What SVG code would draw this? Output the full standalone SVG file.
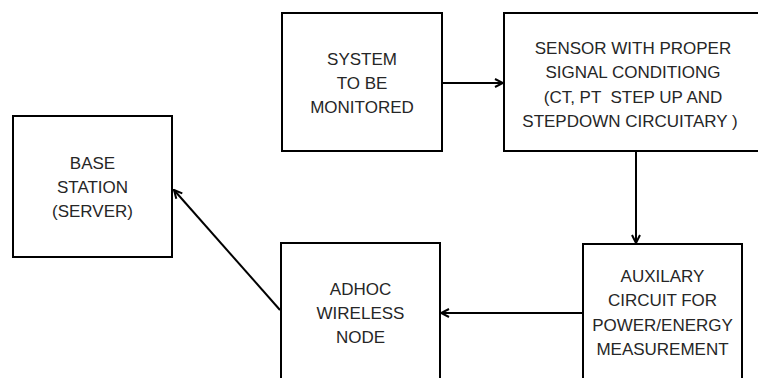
<svg xmlns="http://www.w3.org/2000/svg" width="758" height="378" viewBox="0 0 758 378">
  <style>
    .box { fill: #ffffff; stroke: #000000; stroke-width: 2; }
    .lbl { font-family: "Liberation Sans", Arial, sans-serif; font-size: 17px; fill: #262626; text-anchor: middle; white-space: pre; }
    .wire { fill: none; stroke: #000000; stroke-width: 2; marker-end: url(#arrow); }
  </style>
  <defs>
    <marker id="arrow" viewBox="0 0 10 10" refX="9" refY="5" markerWidth="5" markerHeight="5" markerUnits="strokeWidth" orient="auto">
      <path d="M1,1 L9,5 L1,9" fill="none" stroke="#000000" stroke-width="2"/>
    </marker>
  </defs>
  <rect width="758" height="378" fill="#ffffff"/>

  <g id="system">
    <rect class="box" x="282" y="13" width="160" height="138"/>
    <text class="lbl" x="362" y="65">SYSTEM</text>
    <text class="lbl" x="362" y="89">TO BE</text>
    <text class="lbl" x="362" y="113">MONITORED</text>
  </g>

  <g id="sensor">
    <rect class="box" x="504" y="13" width="270" height="138"/>
    <text class="lbl" x="633" y="54">SENSOR WITH PROPER</text>
    <text class="lbl" x="633" y="78">SIGNAL CONDITIONG</text>
    <text class="lbl" x="633" y="103" xml:space="preserve">(CT, PT  STEP UP AND</text>
    <text class="lbl" x="630" y="127">STEPDOWN CIRCUITARY )</text>
  </g>

  <g id="base-station">
    <rect class="box" x="13" y="116" width="159" height="141"/>
    <text class="lbl" x="92.5" y="169">BASE</text>
    <text class="lbl" x="92.5" y="193">STATION</text>
    <text class="lbl" x="92.5" y="217">(SERVER)</text>
  </g>

  <g id="adhoc-node">
    <rect class="box" x="281" y="243" width="159" height="150"/>
    <text class="lbl" x="360.5" y="295">ADHOC</text>
    <text class="lbl" x="360.5" y="319">WIRELESS</text>
    <text class="lbl" x="360.5" y="343">NODE</text>
  </g>

  <g id="auxiliary">
    <rect class="box" x="583" y="244" width="159" height="150"/>
    <text class="lbl" x="662.5" y="282">AUXILARY</text>
    <text class="lbl" x="662.5" y="306">CIRCUIT FOR</text>
    <text class="lbl" x="662.5" y="331">POWER/ENERGY</text>
    <text class="lbl" x="662.5" y="355">MEASUREMENT</text>
  </g>

  <g id="connectors">
    <line class="wire" x1="443" y1="83" x2="503" y2="83"/>
    <line class="wire" x1="636" y1="152" x2="636" y2="243"/>
    <line class="wire" x1="582" y1="313" x2="441" y2="313"/>
    <line class="wire" x1="280" y1="310" x2="174" y2="190"/>
  </g>
</svg>
